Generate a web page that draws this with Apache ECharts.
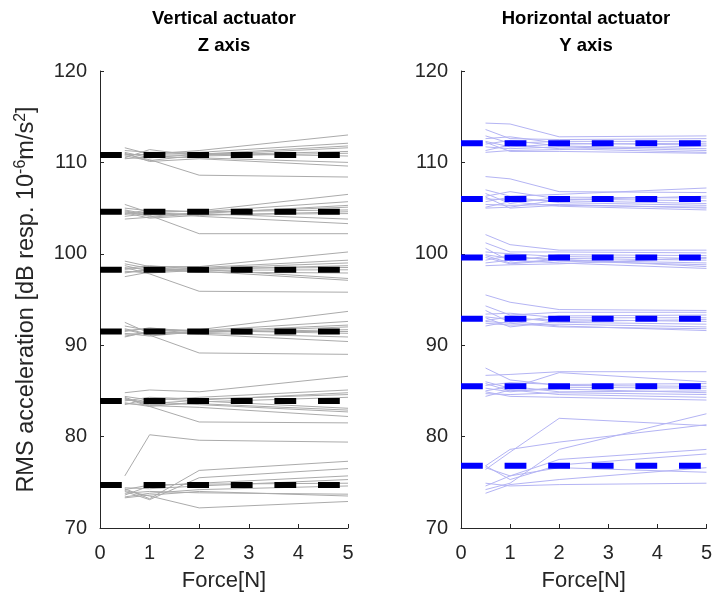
<!DOCTYPE html>
<html>
<head>
<meta charset="utf-8">
<script src="https://cdn.jsdelivr.net/npm/echarts@6/dist/echarts.min.js"></script>
<style>html,body{margin:0;padding:0;background:#fff;}#chart{width:715px;height:599px;}</style>
</head>
<body>
<div id="chart"></div>
<script>
// Force levels at which the individual runs were measured
const forcePoints = [0.5, 1, 2, 5];
const meanRange = [0, 5];
const xTicks = [0, 1, 2, 3, 4, 5];
const yTicks = [70, 80, 90, 100, 110, 120];

// Mean levels (thick dashed lines)
const verticalMeans = [110.8, 104.6, 98.25, 91.5, 83.9, 74.7];
const horizontalMeans = [112.1, 106.0, 99.6, 92.9, 85.5, 76.8];

// Vertical actuator, Z axis: individual runs per level (values at forcePoints)
const vertLevel1 = [
  [111.6, 110.9, 111.3, 113.0], [111.3, 111.1, 111.1, 112.1], [111.1, 110.5, 110.9, 111.8],
  [110.9, 110.8, 110.8, 111.6], [110.7, 110.2, 110.8, 111.2], [110.5, 111.4, 110.7, 111.0],
  [110.9, 110.3, 108.6, 108.4], [110.4, 110.6, 110.5, 110.0], [111.0, 110.1, 110.4, 109.6],
  [110.8, 110.9, 111.0, 110.7]
];
const vertLevel2 = [
  [105.4, 104.5, 104.7, 106.5], [105.0, 104.7, 104.6, 105.7], [104.8, 104.3, 104.4, 105.3],
  [104.6, 104.1, 104.5, 105.1], [104.4, 104.8, 104.6, 104.8], [104.1, 104.4, 104.3, 104.4],
  [104.7, 104.2, 102.2, 102.2], [103.8, 104.0, 104.4, 103.8], [104.3, 104.6, 104.1, 103.3],
  [104.5, 103.9, 104.2, 104.6]
];
const vertLevel3 = [
  [99.2, 98.6, 98.6, 100.2], [98.9, 98.4, 98.5, 99.3], [98.7, 98.1, 98.4, 99.0],
  [98.4, 98.7, 98.3, 98.7], [98.1, 97.9, 98.2, 98.25], [97.9, 98.3, 98.0, 97.9],
  [98.5, 97.8, 95.9, 95.8], [97.5, 98.0, 98.3, 97.3], [98.3, 98.5, 98.1, 97.1],
  [98.0, 98.2, 98.4, 98.5]
];
const vertLevel4 = [
  [92.5, 91.3, 91.7, 93.7], [92.1, 91.6, 91.6, 92.6], [91.8, 91.2, 91.5, 92.2],
  [91.5, 91.9, 91.4, 92.0], [91.3, 91.0, 91.5, 91.5], [91.0, 91.4, 91.3, 90.9],
  [91.7, 91.1, 89.15, 89.0], [90.9, 91.5, 91.2, 90.4], [91.6, 91.8, 91.6, 91.3],
  [91.2, 91.3, 91.4, 91.7]
];
const vertLevel5 = [
  [84.8, 85.1, 84.9, 86.6], [84.4, 84.0, 84.3, 85.1], [84.1, 83.6, 84.0, 84.8],
  [83.9, 84.3, 84.1, 84.6], [83.7, 83.3, 83.8, 84.3], [83.5, 84.2, 83.9, 83.1],
  [84.2, 83.3, 81.6, 81.5], [83.6, 83.5, 83.6, 82.9], [84.0, 83.8, 83.5, 82.7],
  [84.3, 83.4, 83.2, 82.2]
];
const vertLevel6 = [
  [74.3, 73.2, 76.3, 77.3], [74.0, 73.1, 75.5, 76.5], [73.6, 74.6, 74.9, 75.7],
  [74.4, 74.3, 74.6, 75.3], [73.4, 73.8, 74.2, 74.6], [73.8, 74.0, 73.85, 73.7],
  [74.1, 73.5, 72.2, 72.9], [73.3, 73.6, 74.0, 73.5], [75.7, 80.2, 79.6, 79.4],
  [74.2, 74.7, 74.8, 74.9]
];

// Horizontal actuator, Y axis: individual runs per level
const horLevel1 = [
  [114.3, 114.2, 112.8, 112.9], [113.6, 112.6, 112.5, 112.6], [112.9, 112.1, 112.3, 112.3],
  [112.6, 112.8, 112.1, 111.9], [112.3, 111.7, 112.0, 112.1], [112.0, 112.4, 111.8, 111.5],
  [111.7, 111.5, 111.7, 111.3], [111.3, 111.9, 111.5, 111.1], [111.1, 111.3, 111.4, 111.8],
  [112.2, 111.2, 111.2, 111.0]
];
const horLevel2 = [
  [108.45, 108.2, 106.8, 106.7], [107.0, 106.3, 106.5, 107.2], [106.6, 105.5, 106.2, 106.1],
  [106.3, 106.8, 106.0, 105.8], [106.0, 105.9, 105.8, 105.5], [105.7, 106.2, 105.6, 105.3],
  [105.4, 105.3, 105.4, 105.0], [105.1, 105.7, 105.2, 104.8], [105.0, 105.1, 105.9, 106.3],
  [106.2, 105.0, 105.3, 105.1]
];
const horLevel3 = [
  [102.1, 101.0, 100.4, 100.4], [101.2, 100.2, 100.2, 100.1], [100.6, 99.2, 99.9, 99.8],
  [100.2, 100.0, 99.7, 99.5], [99.9, 99.5, 99.5, 99.3], [99.6, 98.9, 99.3, 99.0],
  [99.3, 99.8, 99.2, 98.8], [99.0, 99.3, 99.0, 98.4], [98.7, 98.8, 98.9, 99.6],
  [99.8, 99.0, 99.4, 98.6]
];
const horLevel4 = [
  [95.5, 94.7, 93.9, 93.8], [94.3, 93.3, 93.6, 93.6], [93.8, 92.5, 93.2, 93.3],
  [93.4, 93.5, 93.0, 93.0], [93.1, 92.8, 92.8, 92.6], [92.7, 93.1, 92.5, 92.3],
  [92.4, 92.2, 92.3, 92.0], [92.1, 92.6, 92.1, 91.6], [93.0, 92.0, 92.6, 92.8],
  [92.6, 92.4, 92.0, 91.8]
];
const horLevel5 = [
  [87.5, 86.2, 85.6, 85.5], [86.7, 86.8, 87.1, 87.1], [86.0, 85.3, 87.0, 86.0],
  [85.6, 85.9, 85.7, 85.8], [85.3, 84.9, 85.4, 85.3], [85.0, 85.5, 84.9, 85.0],
  [84.7, 84.6, 84.8, 84.6], [84.4, 85.1, 84.6, 84.3], [84.9, 84.4, 84.3, 84.0],
  [85.8, 85.0, 85.2, 84.8]
];
const horLevel6 = [
  [76.8, 78.6, 79.4, 81.3], [76.4, 78.3, 82.0, 81.2], [74.2, 74.9, 78.6, 82.5],
  [74.6, 75.7, 77.5, 78.6], [76.8, 75.3, 76.9, 78.1], [73.8, 74.75, 75.3, 76.6],
  [74.9, 74.6, 74.75, 74.9], [76.6, 75.7, 76.6, 76.1]
];

const vertGroups = [vertLevel1, vertLevel2, vertLevel3, vertLevel4, vertLevel5, vertLevel6];
const horGroups = [horLevel1, horLevel2, horLevel3, horLevel4, horLevel5, horLevel6];

const FONT = '"Liberation Sans", Arial, Helvetica, sans-serif';
const TXT = '#262626';

function runSeries(groups, axisIdx, color) {
  const out = [];
  groups.forEach(g => g.forEach(run => {
    out.push({
      type: 'line', xAxisIndex: axisIdx, yAxisIndex: axisIdx,
      data: forcePoints.map((f, i) => [f, run[i]]),
      symbol: 'none', silent: true, animation: false,
      lineStyle: { color: color, width: 1 }, z: 2
    });
  }));
  return out;
}
function meanSeries(means, axisIdx, color) {
  return means.map(m => ({
    type: 'line', xAxisIndex: axisIdx, yAxisIndex: axisIdx,
    data: meanRange.map(f => [f, m]),
    symbol: 'none', silent: true, animation: false,
    lineStyle: { color: color, width: 6, type: [21.8, 21.8], cap: 'butt' }, z: 5
  }));
}

function xAxisCfg(idx) {
  return {
    type: 'value', gridIndex: idx, min: xTicks[0], max: xTicks[xTicks.length - 1], interval: 1,
    name: 'Force[N]', nameLocation: 'middle', nameGap: 42,
    nameTextStyle: { fontFamily: FONT, fontSize: 22, color: TXT },
    axisLine: { show: true, lineStyle: { color: TXT, width: 1 } },
    axisTick: { show: true, inside: true, length: 4, lineStyle: { color: TXT } },
    axisLabel: { fontFamily: FONT, fontSize: 20, color: TXT, margin: 15 },
    splitLine: { show: false }
  };
}
function yAxisCfg(idx, withName) {
  const c = {
    type: 'value', gridIndex: idx, min: yTicks[0], max: yTicks[yTicks.length - 1], interval: 10,
    axisLine: { show: true, lineStyle: { color: TXT, width: 1 } },
    axisTick: { show: true, inside: true, length: 4, lineStyle: { color: TXT } },
    axisLabel: { fontFamily: FONT, fontSize: 20, color: TXT, margin: 13 },
    splitLine: { show: false }
  };
  if (withName) {
    c.name = 'RMS acceleration [dB resp. 10{sup|-6}m/s{sup|2}]';
    c.nameLocation = 'middle';
    c.nameGap = 60;
    c.nameTextStyle = {
      fontFamily: FONT, fontSize: 23.5, color: TXT,
      rich: { sup: { fontFamily: FONT, fontSize: 16, color: TXT, padding: [0, 0, 11, 0] } }
    };
  }
  return c;
}

const chart = echarts.init(document.getElementById('chart'), null, { renderer: 'canvas' });
chart.setOption({
  backgroundColor: '#fff',
  animation: false,
  title: [
    { text: 'Vertical actuator\nZ axis', left: 219, top: 0, textAlign: 'center',
      textStyle: { fontFamily: FONT, fontSize: 18.5, fontWeight: 'bold', color: '#000', lineHeight: 27 } },
    { text: 'Horizontal actuator\nY axis', left: 581, top: 0, textAlign: 'center',
      textStyle: { fontFamily: FONT, fontSize: 18.5, fontWeight: 'bold', color: '#000', lineHeight: 27 } }
  ],
  grid: [
    { left: 100, top: 71, width: 248, height: 457 },
    { left: 461, top: 71, width: 249, height: 457 }
  ],
  xAxis: [xAxisCfg(0), xAxisCfg(1)],
  yAxis: [yAxisCfg(0, true), yAxisCfg(1, false)],
  series: [].concat(
    runSeries(vertGroups, 0, '#ababab'),
    meanSeries(verticalMeans, 0, '#000000'),
    runSeries(horGroups, 1, '#b4b4f4'),
    meanSeries(horizontalMeans, 1, '#0000ff')
  )
});
</script>
</body>
</html>
